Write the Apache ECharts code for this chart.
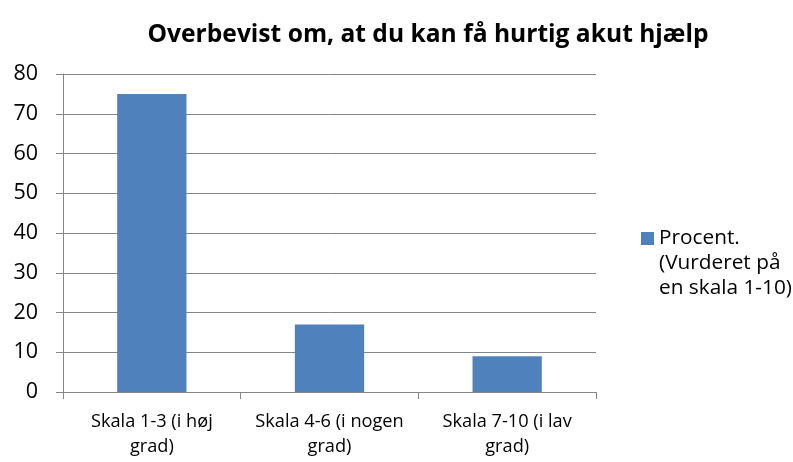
<!DOCTYPE html>
<html>
<head>
<meta charset="utf-8">
<script src="https://cdn.jsdelivr.net/npm/echarts@6/dist/echarts.min.js"></script>
<style>
  html, body { margin: 0; padding: 0; background: #fff; }
  #chart { width: 793px; height: 462px; }
</style>
</head>
<body>
<div id="chart"></div>
<script>
var titleText = 'Overbevist om, at du kan få hurtig akut hjælp';
var categories = ['Skala 1-3 (i høj\ngrad)', 'Skala 4-6 (i nogen\ngrad)', 'Skala 7-10 (i lav\ngrad)'];
var seriesName = 'Procent.\n(Vurderet på\nen skala 1-10)';
var values = [75, 17, 9];
var yMin = 0, yMax = 80, yStep = 10;

var fontFam = 'Open Sans, Noto Sans, sans-serif';
var axisGray = '#868686';

var chart = echarts.init(document.getElementById('chart'));
var option = {
    animation: false,
    title: {
        text: titleText,
        left: 423,
        textAlign: 'center',
        top: 17,
        textStyle: { fontFamily: fontFam, fontSize: 24.6, fontWeight: 'bold', color: '#000' }
    },
    legend: {
        data: [seriesName],
        left: 641,
        top: 176,
        padding: 0,
        itemWidth: 13,
        itemHeight: 13,
        icon: 'rect',
        // two blank lines in front so the icon sits beside the first line
        formatter: function (name) { return '\n\n' + name; },
        textStyle: { fontFamily: fontFam, fontSize: 20.8, color: '#000', lineHeight: 25 }
    },
    grid: { left: 63, right: 197, top: 74, bottom: 70 },
    xAxis: {
        type: 'category',
        data: categories,
        axisLine: { lineStyle: { color: axisGray, width: 1 } },
        axisTick: { show: true, length: 7, lineStyle: { color: axisGray } },
        axisLabel: { color: '#000', fontFamily: fontFam, fontSize: 18.2, lineHeight: 25, margin: 17, interval: 0 }
    },
    yAxis: {
        type: 'value',
        min: yMin, max: yMax, interval: yStep,
        axisLine: { show: true, lineStyle: { color: axisGray, width: 1 } },
        axisTick: { show: true, length: 7, lineStyle: { color: axisGray } },
        splitLine: { lineStyle: { color: axisGray, width: 1 } },
        axisLabel: { color: '#000', fontFamily: fontFam, fontSize: 21.5, margin: 25 }
    },
    series: [{
        name: seriesName,
        type: 'bar',
        data: values,
        barWidth: '39%',
        itemStyle: { color: '#4F81BD' }
    }]
};
chart.setOption(option);
</script>
</body>
</html>
